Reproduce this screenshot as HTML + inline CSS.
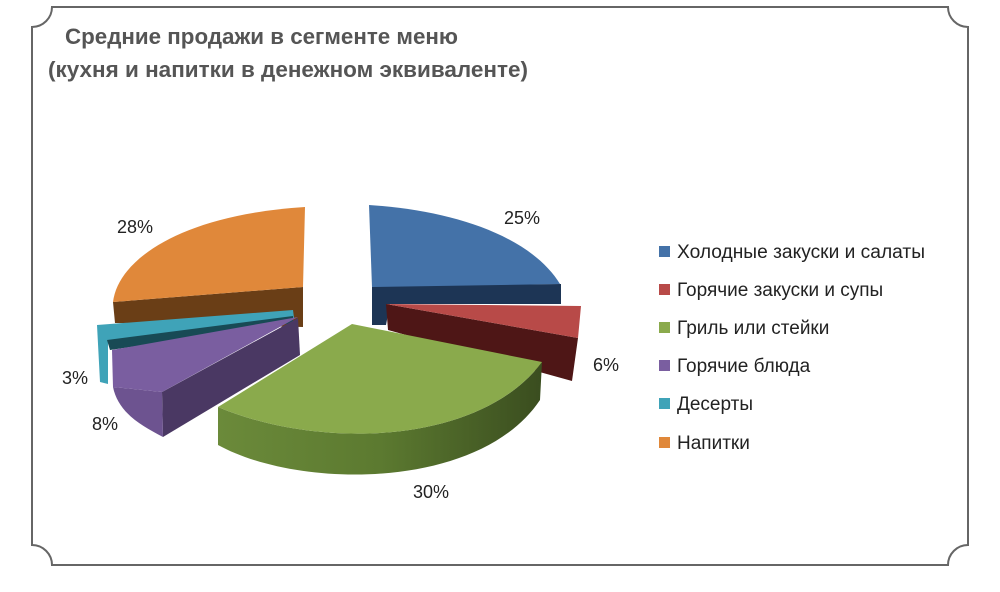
<!DOCTYPE html>
<html><head><meta charset="utf-8"><style>
html,body{margin:0;padding:0;background:#fff;}
svg{display:block;}
text{font-family:"Liberation Sans","DejaVu Sans",sans-serif;}
</style></head><body>
<svg width="1000" height="592" viewBox="0 0 1000 592" xmlns="http://www.w3.org/2000/svg">
<defs>
<linearGradient id="gs" x1="0" x2="1" y1="0" y2="0"><stop offset="0" stop-color="#6b8a3a"/><stop offset="0.5" stop-color="#5c7a30"/><stop offset="1" stop-color="#3a4d1f"/></linearGradient>
</defs>
<path d="M52,7 L948,7 A20,20 0 0 0 968,27 L968,545 A20,20 0 0 0 948,565 L52,565 A20,20 0 0 0 32,545 L32,27 A20,20 0 0 0 52,7 Z" fill="none" stroke="#666" stroke-width="2"/>
<text x="65" y="44" font-size="22.5" font-weight="bold" fill="#555" textLength="393" lengthAdjust="spacingAndGlyphs">Средние продажи в сегменте меню</text>
<text x="48" y="77" font-size="22.5" font-weight="bold" fill="#555" textLength="480" lengthAdjust="spacingAndGlyphs">(кухня и напитки в денежном эквиваленте)</text>

<path d="M113,302 L303,287 L303,327 L115,323 Z" fill="#6a3e16"/>
<path d="M305,207 L303,287 L113,302 C118,260 180,215 305,207 Z" fill="#e0883a"/>
<path d="M97,325 L293,310 L294,318 L108,342 L108,384 L100,382 Z" fill="#3fa3b8"/>
<path d="M107,340 L293,316 L293,323 L110,350 Z" fill="#184a55"/>
<path d="M162,392 L298,318 L300,355 L163,437 Z" fill="#4a3863"/>
<path d="M113,387 L162,392 L163,437 C140,425 118,412 113,387 Z" fill="#6d5390"/>
<path d="M298,317 L112,350 L113,387 L162,392 Z" fill="#7a5ea0"/>
<path d="M372,286 L561,284 L561,304 L390,304 L386,325 L372,325 Z" fill="#1d3555"/>
<path d="M369,205 C450,210 530,235 560,284 L372,287 Z" fill="#4472a8"/>
<path d="M386,304 L578,338 L572,381 L388,330 Z" fill="#4e1616"/>
<path d="M386,304 L581,306 L578,338 Z" fill="#b84a48"/>
<path d="M218,407 L218,445 C300,490 480,490 540,400 L542,362 C480,445 320,450 218,407 Z" fill="url(#gs)"/>
<path d="M352,324 L542,362 C480,445 320,450 218,407 Z" fill="#8aaa4c"/>

<g font-size="18" fill="#222">
<text x="504" y="224">25%</text>
<text x="593" y="371">6%</text>
<text x="413" y="498">30%</text>
<text x="92" y="430">8%</text>
<text x="62" y="384">3%</text>
<text x="117" y="233">28%</text>
</g>
<g font-size="19" fill="#222">
<rect x="659" y="246" width="11" height="11" fill="#4472a8"/><text x="677" y="258" textLength="248" lengthAdjust="spacingAndGlyphs">Холодные закуски и салаты</text>
<rect x="659" y="284" width="11" height="11" fill="#b84a48"/><text x="677" y="296">Горячие закуски и супы</text>
<rect x="659" y="322" width="11" height="11" fill="#8aaa4c"/><text x="677" y="334">Гриль или стейки</text>
<rect x="659" y="360" width="11" height="11" fill="#7a5ea0"/><text x="677" y="372">Горячие блюда</text>
<rect x="659" y="398" width="11" height="11" fill="#3fa3b8"/><text x="677" y="410">Десерты</text>
<rect x="659" y="437" width="11" height="11" fill="#e0883a"/><text x="677" y="449">Напитки</text>
</g>
</svg>
</body></html>
